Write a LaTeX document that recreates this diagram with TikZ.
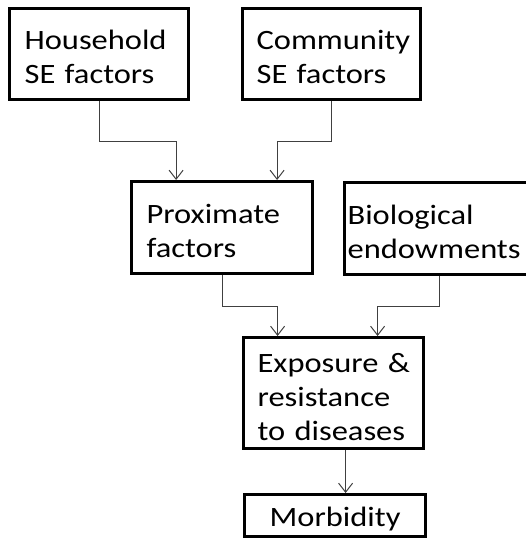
\documentclass[tikz,border=0pt]{standalone}
\usepackage{fontspec}
\setmainfont{Carlito}[FakeStretch=1.16]
\usetikzlibrary{arrows.meta}

\begin{document}
\begin{tikzpicture}[x=1pt,y=-1pt,
    box/.style={draw, line width=3.2pt, anchor=north west, inner xsep=15pt,
      align=left, font=\fontsize{28}{34}\selectfont,
      execute at begin node={\rule{0pt}{26pt}}},
    link/.style={draw=black!75, line width=1pt,
      -{Straight Barb[length=9pt,width=14pt]}}]
          \useasboundingbox (0,0) rectangle (526,538);
          \node[box, minimum width=179, minimum height=91, text width=149] (hh) at (8,7) {Household\\SE factors};
          \node[box, minimum width=178, minimum height=91, text width=150, inner xsep=14pt] (cs) at (241,7) {Community\\SE factors};
          \node[box, minimum width=181, minimum height=92, text width=151] (prox) at (130,180) {Proximate\\factors};
          \node[box, minimum width=200, minimum height=92, text width=194, inner xsep=3pt] (bio) at (343,181) {Biological\\endowments};
          \node[box, minimum width=180, minimum height=111, text width=152, inner xsep=14pt] (exp) at (242,336) {Exposure~\&\\resistance\\to diseases};
          \node[box, minimum width=181, minimum height=42, text width=151, align=center] (morb) at (243,493) {Morbidity};
  
          \draw[link] (hh.south) -- ++(0,40) -| ([xshift=-46pt]prox.north);
          \draw[link] (cs.south) -- ++(0,40) -| ([xshift=55pt]prox.north);
          \draw[link] (prox.south) -- ++(0,31) -| ([xshift=-56pt]exp.north);
          \draw[link] ([xshift=-5pt]bio.south) -- ++(0,30) -| ([xshift=44pt]exp.north);
          \draw[link] ([xshift=12pt]exp.south) -- ([xshift=12pt]exp.south |- morb.north);
      \end{tikzpicture}
\end{document}
